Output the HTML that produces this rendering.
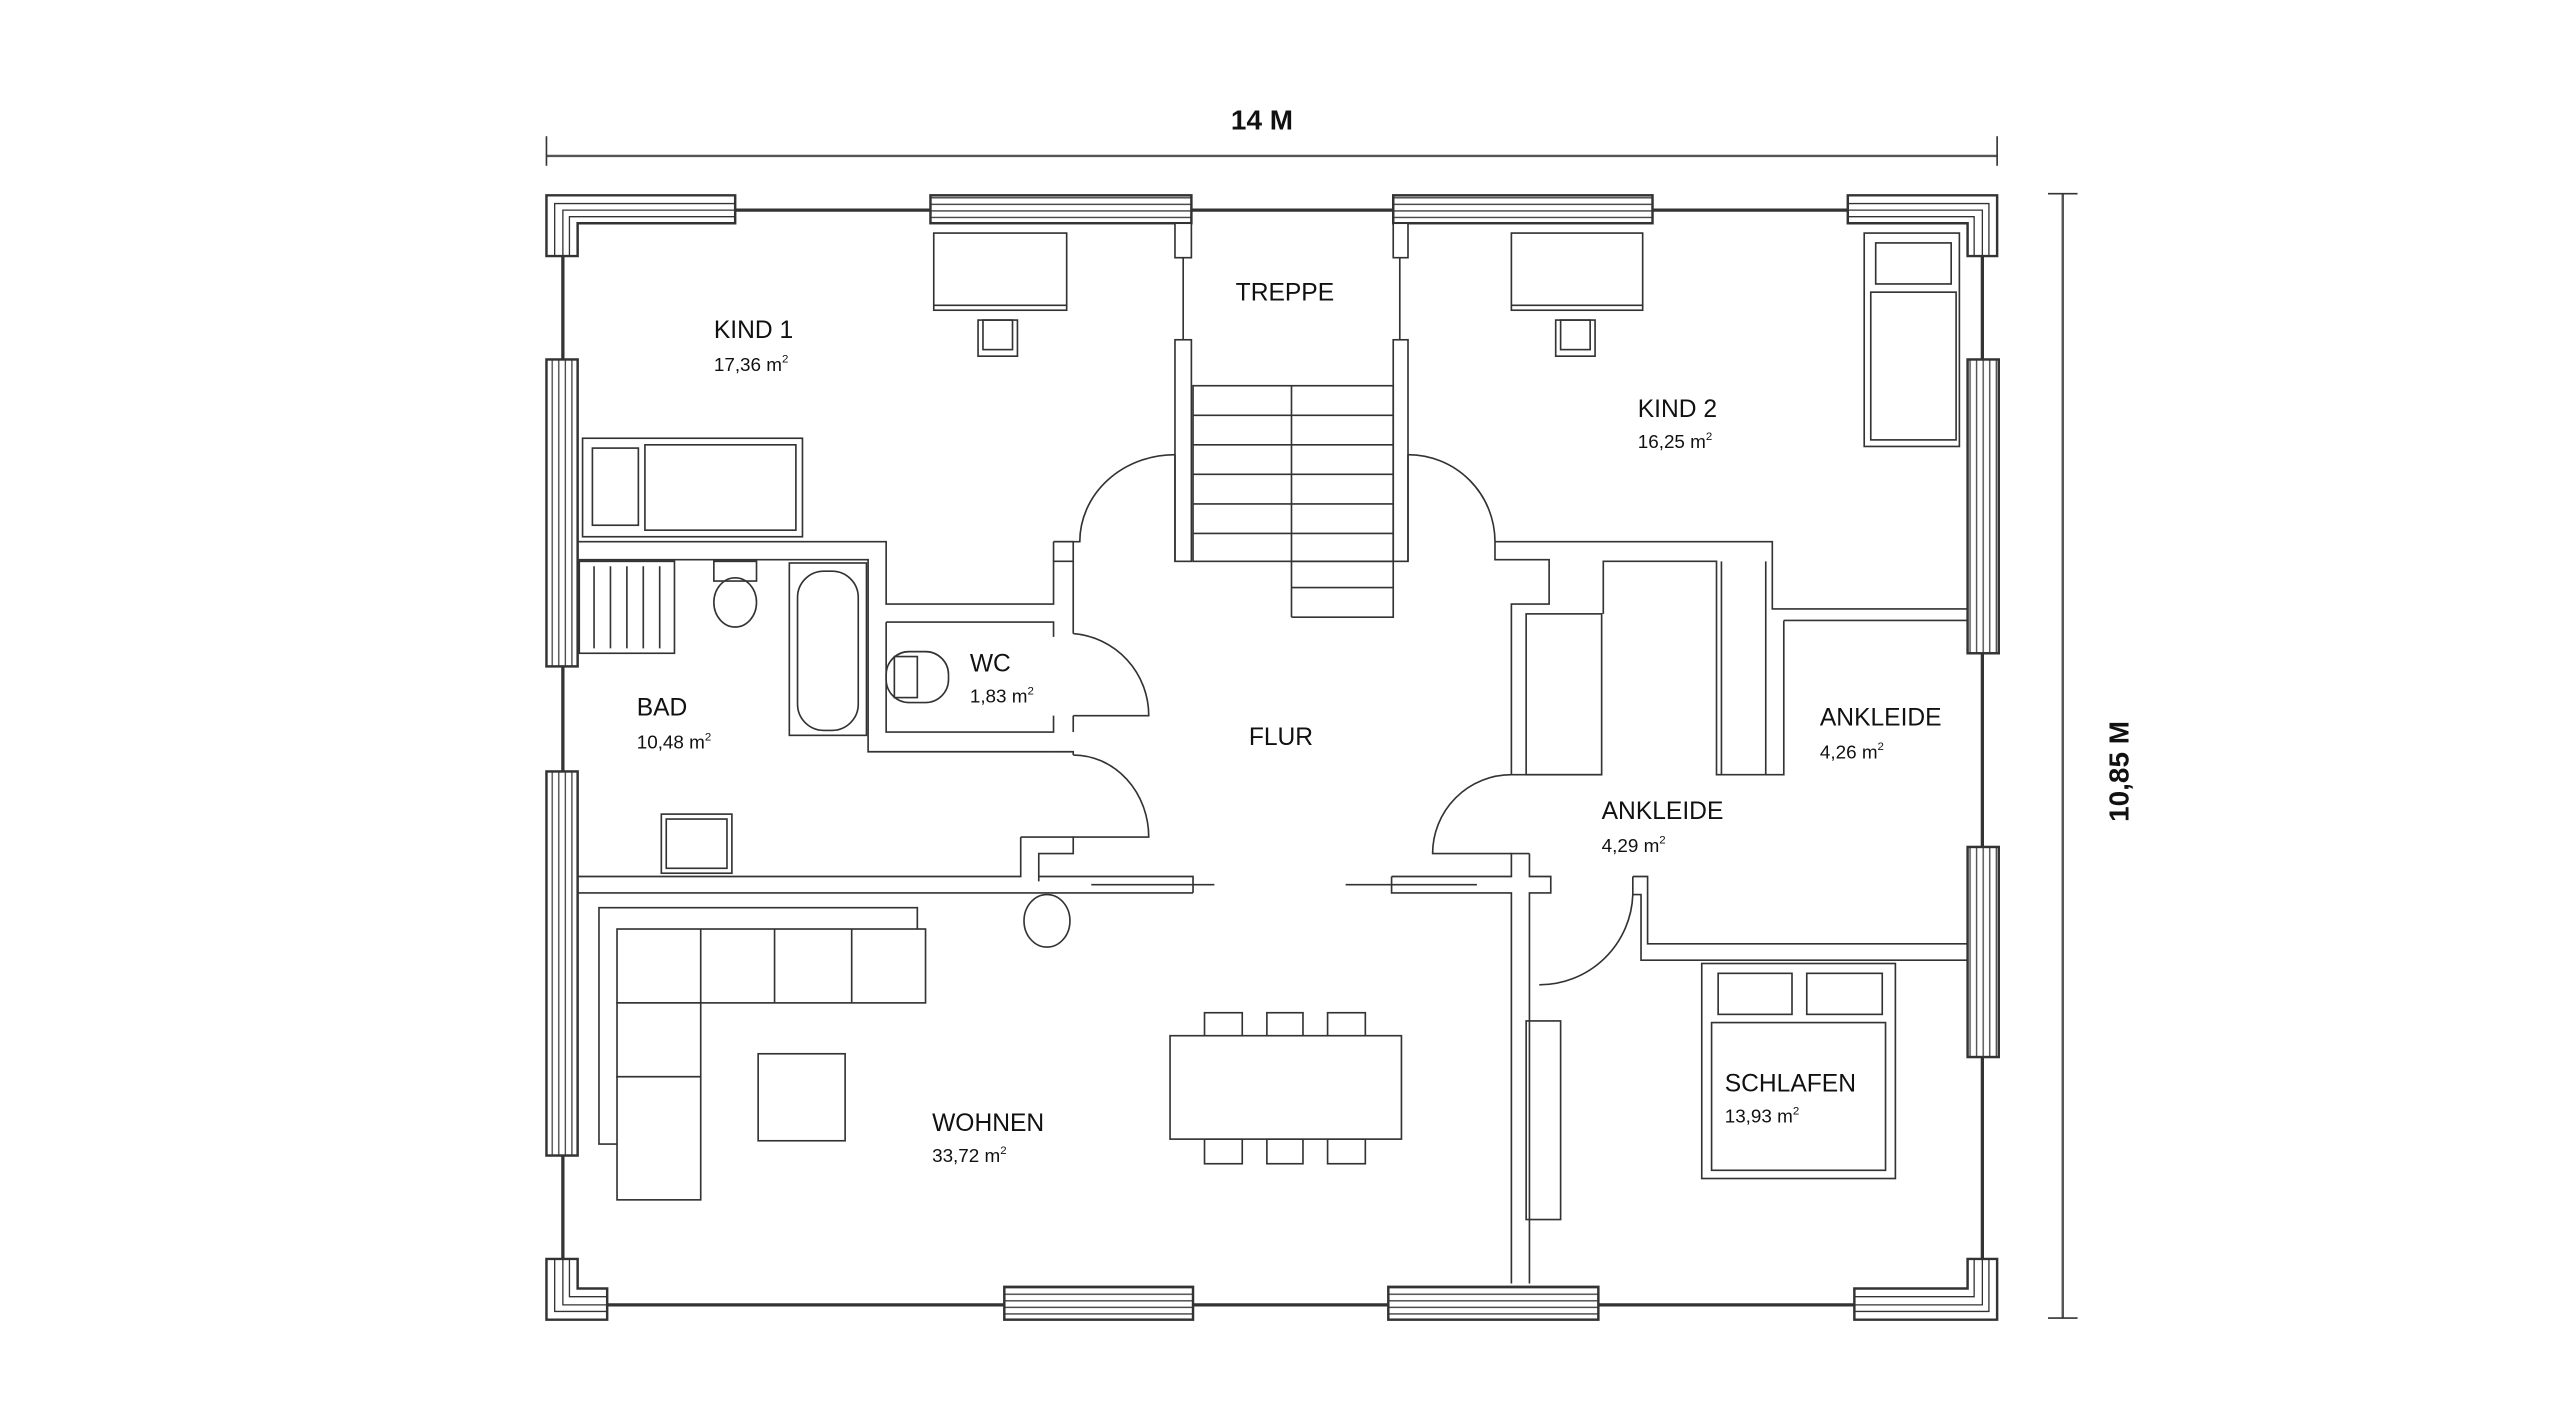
<!DOCTYPE html>
<html><head><meta charset="utf-8"><style>
html,body{margin:0;padding:0;background:#fff;}
svg{display:block;}
text{font-family:"Liberation Sans",Arial,sans-serif;fill:#111;}
</style></head><body>
<svg width="2560" height="1428" viewBox="0 0 1560 870" preserveAspectRatio="none" xmlns="http://www.w3.org/2000/svg">
<defs>
<pattern id="hs" width="10" height="4" patternUnits="userSpaceOnUse"><rect width="10" height="4" fill="#fff"/><line x1="0" y1="0.5" x2="10" y2="0.5" stroke="#444" stroke-width="0.8"/></pattern>
<pattern id="vs" width="4" height="10" patternUnits="userSpaceOnUse"><rect width="4" height="10" fill="#fff"/><line x1="0.5" y1="0" x2="0.5" y2="10" stroke="#444" stroke-width="0.8"/></pattern>
</defs>
<g fill="none" stroke="#333" stroke-width="1">
<line x1="333" y1="95" x2="1217" y2="95" stroke="#555" stroke-width="1.5"/>
<line x1="333" y1="83" x2="333" y2="101"/><line x1="1217" y1="83" x2="1217" y2="101"/>
<line x1="1257" y1="118" x2="1257" y2="803" stroke="#555" stroke-width="1.5"/>
<line x1="1248" y1="118" x2="1266" y2="118"/><line x1="1248" y1="803" x2="1266" y2="803"/>

<line x1="343" y1="128" x2="1208" y2="128" stroke-width="2"/>
<line x1="343" y1="128" x2="343" y2="795" stroke-width="2"/>
<line x1="1208" y1="128" x2="1208" y2="795" stroke-width="2"/>
<line x1="343" y1="795" x2="1208" y2="795" stroke-width="2"/>

<g stroke-width="1.5">
<rect x="567" y="119" width="159" height="17" fill="url(#hs)"/>
<rect x="849" y="119" width="158" height="17" fill="url(#hs)"/>
<rect x="612" y="784" width="115" height="20" fill="url(#hs)"/>
<rect x="846" y="784" width="128" height="20" fill="url(#hs)"/>
<rect x="333" y="219" width="19" height="187" fill="url(#vs)"/>
<rect x="333" y="470" width="19" height="234" fill="url(#vs)"/>
<rect x="1199" y="219" width="19" height="179" fill="url(#vs)"/>
<rect x="1199" y="516" width="19" height="128" fill="url(#vs)"/>
</g>
<g fill="#fff" stroke-width="1.5">
<polygon points="333,119 448,119 448,136 352,136 352,156 333,156"/>
<polygon points="1126,119 1217,119 1217,156 1199,156 1199,136 1126,136"/>
<polygon points="333,767 352,767 352,785 370,785 370,804 333,804"/>
<polygon points="1199,767 1217,767 1217,804 1130,804 1130,785 1199,785"/>
</g>
<g stroke-width="0.8">
<polyline points="338,156 338,124 448,124"/><polyline points="343,156 343,128 448,128"/><polyline points="347,156 347,132 448,132"/>
<polyline points="1126,124 1212,124 1212,156"/><polyline points="1126,128 1208,128 1208,156"/><polyline points="1126,132 1203,132 1203,156"/>
<polyline points="338,767 338,799 370,799"/><polyline points="343,767 343,795 370,795"/><polyline points="347,767 347,790 370,790"/>
<polyline points="1212,767 1212,799 1130,799"/><polyline points="1208,767 1208,795 1130,795"/><polyline points="1203,767 1203,790 1130,790"/>
</g>

<rect x="716" y="136" width="10" height="21" fill="#fff"/>
<rect x="849" y="136" width="9" height="21" fill="#fff"/>
<line x1="721" y1="157" x2="721" y2="207"/><line x1="853" y1="157" x2="853" y2="207"/>
<rect x="716" y="207" width="10" height="135" fill="#fff"/>
<rect x="849" y="207" width="9" height="135" fill="#fff"/>
<rect x="727" y="235" width="122" height="107"/>
<line x1="787" y1="235" x2="787" y2="376"/>
<line x1="727" y1="253" x2="849" y2="253"/><line x1="727" y1="271" x2="849" y2="271"/><line x1="727" y1="289" x2="849" y2="289"/><line x1="727" y1="307" x2="849" y2="307"/><line x1="727" y1="325" x2="849" y2="325"/>
<polyline points="787,342 849,342 849,376 787,376"/><line x1="787" y1="358" x2="849" y2="358"/>

<g stroke-width="1">
<polyline points="352,330 540,330 540,368 642,368 642,342 654,342"/>
<polyline points="352,341 529,341 529,458 642,458"/>
<polyline points="540,379 642,379 642,388"/>
<polyline points="540,379 540,446 642,446 642,436"/>
<line x1="654" y1="330" x2="654" y2="386"/>
<line x1="642" y1="330" x2="654" y2="330"/>
<line x1="642" y1="330" x2="642" y2="342"/>
<path d="M654,386 A50,50 0 0 1 700,436 L654,436"/>
<line x1="654" y1="436" x2="654" y2="446"/>
<polyline points="642,458 654,458 654,460"/>
<path d="M654,460 A46,50 0 0 1 700,510 L654,510 L654,520 L633,520 L633,537"/>
<polyline points="622,510 622,534 352,534"/>
<line x1="622" y1="510" x2="654" y2="510"/>
<line x1="352" y1="544" x2="727" y2="544"/>
<polyline points="633,534 727,534 727,544"/>
<line x1="665" y1="539" x2="740" y2="539"/>
<polyline points="848,534 848,544 921,544 921,782"/>
<polyline points="848,534 921,534 921,520 932,520"/>
<line x1="820" y1="539" x2="900" y2="539"/>
<polyline points="932,520 932,534 945,534 945,544 932,544 932,782"/>
<path d="M921,472 A48,48 0 0 0 873,520 L921,520"/>
<path d="M911,330 L1080,330 L1080,371 L1199,371"/>
<polyline points="911,330 911,341 944,341 944,368 921,368 921,472 976,472"/>
<polyline points="1087,378 1199,378"/>
<polyline points="1087,378 1087,472 1046,472 1046,342 977,342 977,374"/>
<rect x="930" y="374" width="46" height="98"/>
<line x1="1049" y1="342" x2="1049" y2="472"/>
<line x1="1076" y1="342" x2="1076" y2="472"/>
<path d="M858,277 A53,53 0 0 1 911,330"/>
<path d="M716,277 A58,53 0 0 0 658,330 L642,330"/>
<line x1="716" y1="277" x2="716" y2="342"/>
<line x1="858" y1="277" x2="858" y2="342"/>
<polyline points="995,534 1004,534 1004,575 1199,575"/>
<polyline points="995,534 995,545 1000,545 1000,585 1199,585"/>
<path d="M995,545 A57,57 0 0 1 938,600"/>
</g>

<rect x="569" y="142" width="81" height="47"/><line x1="569" y1="186" x2="650" y2="186"/>
<rect x="596" y="195" width="24" height="22"/><rect x="599" y="195" width="18" height="18"/>
<rect x="921" y="142" width="80" height="47"/><line x1="921" y1="186" x2="1001" y2="186"/>
<rect x="948" y="195" width="24" height="22"/><rect x="951" y="195" width="18" height="18"/>
<rect x="1136" y="142" width="58" height="130"/><rect x="1143" y="148" width="46" height="25"/><rect x="1140" y="178" width="52" height="90"/>
<rect x="355" y="267" width="134" height="60"/><rect x="361" y="273" width="28" height="47"/><rect x="393" y="271" width="92" height="52"/>
<rect x="353" y="342" width="58" height="56"/>
<line x1="362" y1="345" x2="362" y2="395"/><line x1="372" y1="345" x2="372" y2="395"/><line x1="382" y1="345" x2="382" y2="395"/><line x1="392" y1="345" x2="392" y2="395"/><line x1="402" y1="345" x2="402" y2="395"/>
<rect x="435" y="342" width="26" height="12"/><ellipse cx="448" cy="367" rx="13" ry="15"/>
<rect x="481" y="343" width="47" height="105"/><rect x="486" y="348" width="37" height="97" rx="16"/>
<rect x="403" y="496" width="43" height="36"/><rect x="406" y="499" width="37" height="30"/>
<rect x="540" y="397" width="38" height="31" rx="14"/><rect x="545" y="400" width="14" height="25"/>
<ellipse cx="638" cy="561" rx="14" ry="16"/>
<polyline points="559,566 559,553 365,553 365,697 376,697"/>
<rect x="376" y="566" width="188" height="45" fill="#fff"/>
<line x1="427" y1="566" x2="427" y2="611"/><line x1="472" y1="566" x2="472" y2="611"/><line x1="519" y1="566" x2="519" y2="611"/>
<rect x="376" y="611" width="51" height="45" fill="#fff"/><rect x="376" y="656" width="51" height="75" fill="#fff"/>
<rect x="462" y="642" width="53" height="53"/>
<rect x="734" y="617" width="23" height="17"/><rect x="772" y="617" width="22" height="17"/><rect x="809" y="617" width="23" height="17"/>
<rect x="734" y="694" width="23" height="15"/><rect x="772" y="694" width="22" height="15"/><rect x="809" y="694" width="23" height="15"/>
<rect x="713" y="631" width="141" height="63" fill="#fff"/>
<rect x="930" y="622" width="21" height="121"/>
<rect x="1037" y="587" width="118" height="131"/>
<rect x="1047" y="593" width="45" height="25"/><rect x="1101" y="593" width="46" height="25"/>
<rect x="1043" y="623" width="106" height="90"/>
</g>

<text x="769" y="79" font-size="17" font-weight="bold" text-anchor="middle">14 M</text>
<text transform="translate(1297,470) rotate(-90)" font-size="17" font-weight="bold" text-anchor="middle">10,85 M</text>
<g font-size="15">
<text x="435" y="206">KIND 1</text>
<text x="753" y="183">TREPPE</text>
<text x="998" y="254">KIND 2</text>
<text x="591" y="409">WC</text>
<text x="388" y="436">BAD</text>
<text x="761" y="454">FLUR</text>
<text x="1109" y="442">ANKLEIDE</text>
<text x="976" y="499">ANKLEIDE</text>
<text x="1051" y="665">SCHLAFEN</text>
<text x="568" y="689">WOHNEN</text>
</g>
<g font-size="11.5">
<text x="435" y="226">17,36 m<tspan font-size="7" dy="-5">2</tspan></text>
<text x="998" y="273">16,25 m<tspan font-size="7" dy="-5">2</tspan></text>
<text x="591" y="428">1,83 m<tspan font-size="7" dy="-5">2</tspan></text>
<text x="388" y="456">10,48 m<tspan font-size="7" dy="-5">2</tspan></text>
<text x="1109" y="462">4,26 m<tspan font-size="7" dy="-5">2</tspan></text>
<text x="976" y="519">4,29 m<tspan font-size="7" dy="-5">2</tspan></text>
<text x="1051" y="684">13,93 m<tspan font-size="7" dy="-5">2</tspan></text>
<text x="568" y="708">33,72 m<tspan font-size="7" dy="-5">2</tspan></text>
</g>
</svg>
</body></html>
